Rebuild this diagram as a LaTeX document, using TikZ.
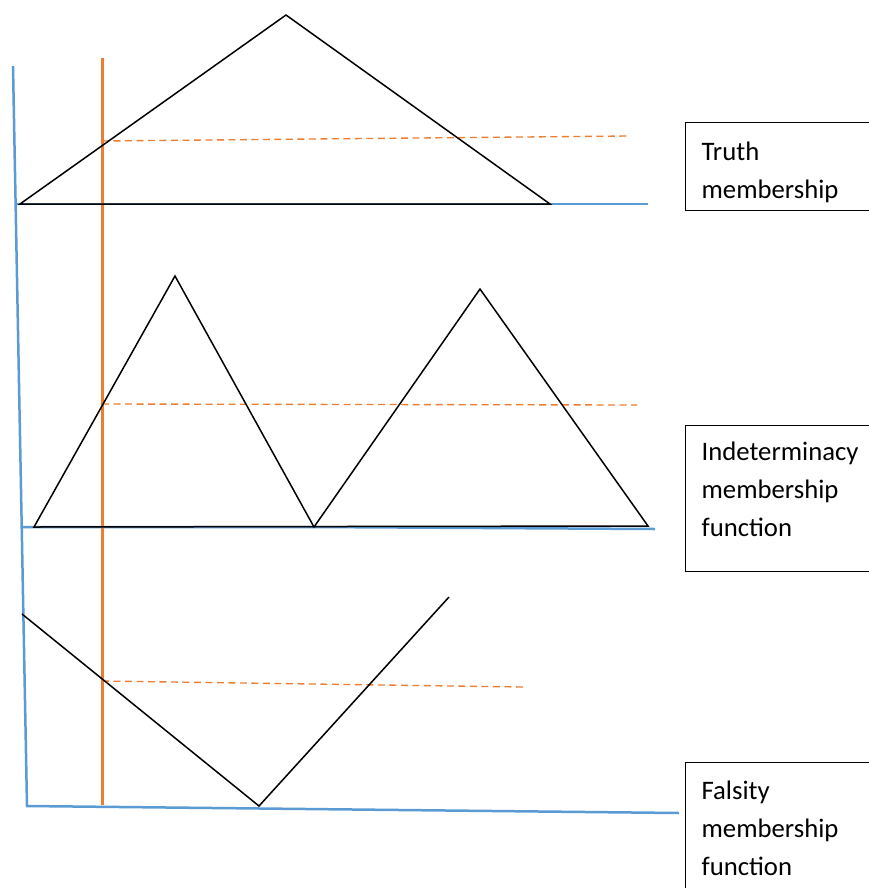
\documentclass[tikz,border=0pt]{standalone}
\usepackage{fontspec}
\setmainfont{Carlito}
\definecolor{AxisBlue}{HTML}{5B9BD5}
\definecolor{CutOrange}{HTML}{ED7D31}

\begin{document}
\begin{tikzpicture}[x=0.2mm,y=-0.2mm,
    axis/.style={draw=AxisBlue,line width=0.5mm},
    cut/.style={draw=CutOrange,line width=0.6mm},
    level/.style={draw=CutOrange,line width=0.27mm,dash pattern=on 1.4mm off 0.9mm},
    curve/.style={draw=black,line width=0.3mm,line join=miter},
    labelbox/.style={draw=black,line width=0.25mm,anchor=north west,align=left,
                     text width=36mm,inner xsep=3.2mm,inner ysep=0pt,
                     font=\fontsize{15.2}{21.6}\selectfont}
  ]
    \useasboundingbox (0,0) rectangle (869,888);
    \clip (0,0) rectangle (869,888);

    % axes
    \coordinate (top) at (13,66);
    \coordinate (origin) at (27,806);
    \coordinate (xend) at (679,813);
    \draw[axis] (top) -- (origin) -- (xend);
    \draw[axis] (16,204) -- (648,204);
    \draw[axis] (22,527) -- (314,527) -- (655,529);

    % alpha cut
    \coordinate (cuttop) at (102,58);
    \coordinate (cutbot) at (102,805);
    \draw[cut] (cuttop) -- (cutbot);
    \draw[level] (102,141) -- (628,136);
    \draw[level] (102,404) -- (637,405);
    \draw[level] (102,681) -- (523,687);

    % truth
    \coordinate (t1) at (20,204);
    \coordinate (tpeak) at (286,15);
    \coordinate (t2) at (550,204);
    \draw[curve] (t1) -- (tpeak) -- (t2) -- cycle;

    % indeterminacy
    \coordinate (i1) at (34,527);
    \coordinate (ipeakA) at (175,276);
    \coordinate (imid) at (314,527);
    \coordinate (ipeakB) at (480,289);
    \coordinate (i2) at (648,526);
    \draw[curve] (i1) -- (ipeakA) -- (imid) -- (ipeakB) -- (i2) -- cycle;

    % falsity
    \coordinate (f1) at (22,614);
    \coordinate (fmin) at (259,806);
    \coordinate (f2) at (449,597);
    \draw[curve] (f1) -- (fmin) -- (f2);

    \node[labelbox,text height=7.6mm,text depth=10mm] (truth) at (685,122) {Truth\\membership};
    \node[labelbox,text height=7.0mm,text depth=22.2mm] (indet) at (685,425) {Indeterminacy\\membership\\function};
    \node[labelbox,text height=7.4mm,text depth=26mm] (falsity) at (685,762) {Falsity\\membership\\function};
  \end{tikzpicture}
\end{document}
